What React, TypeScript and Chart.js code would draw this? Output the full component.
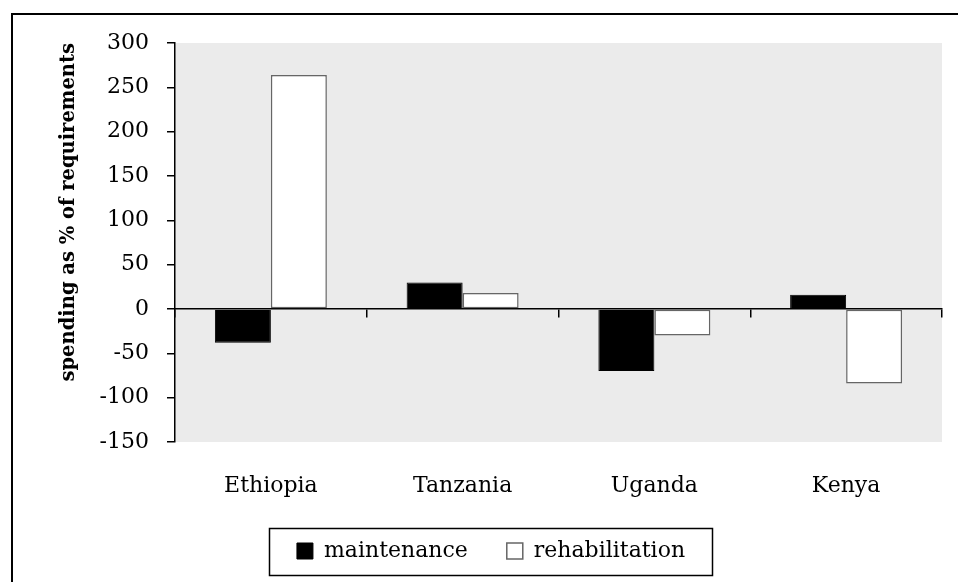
import React, { useEffect, useRef } from "react";
import { Chart, registerables } from "chart.js";

Chart.register(...registerables);

const categories = ["Ethiopia", "Tanzania", "Uganda", "Kenya"];
const maintenance = [-38, 30, -70, 16];
const rehabilitation = [264, 18, -30, -84];
const seriesNames = ["maintenance", "rehabilitation"];
const yTitle = "spending as % of requirements";
const yMin = -150;
const yMax = 300;
const yStep = 50;

const FONT = "'DejaVu Serif', serif";

const bgPlugin = {
  id: "bgPlugin",
  beforeDraw(chart: any) {
    const { ctx, chartArea } = chart;
    ctx.save();
    ctx.fillStyle = "#ebebeb";
    ctx.fillRect(chartArea.left, chartArea.top, chartArea.right - chartArea.left, chartArea.bottom - chartArea.top);
    ctx.restore();
  },
  afterDraw(chart: any) {
    const { ctx } = chart;
    ctx.save();
    // outer frame
    ctx.strokeStyle = "#000";
    ctx.lineWidth = 2;
    ctx.strokeRect(12, 14, chart.width + 50, chart.height + 50);
    // legend frame
    const boxes = chart.legend && chart.legend.legendHitBoxes;
    if (boxes && boxes.length) {
      let l = Infinity, r = -Infinity, t = Infinity, b = -Infinity;
      boxes.forEach((h: any) => {
        l = Math.min(l, h.left);
        r = Math.max(r, h.left + h.width);
        t = Math.min(t, h.top);
        b = Math.max(b, h.top + h.height);
      });
      ctx.lineWidth = 1.5;
      ctx.strokeRect(Math.round(l - 28) + 0.5, Math.round(t - 12) + 0.5, Math.round(r - l + 55), Math.round(b - t + 25));
    }
    ctx.restore();
  },
};

export default function App() {
  const ref = useRef<HTMLCanvasElement>(null);
  useEffect(() => {
    if (!ref.current) return;
    const chart = new Chart(ref.current, {
      type: "bar",
      data: {
        labels: categories,
        datasets: [
          {
            label: seriesNames[0],
            data: maintenance,
            backgroundColor: "#000000",
            borderColor: "#000000",
            borderWidth: 1,
            xAxisID: "x",
          },
          {
            label: seriesNames[1],
            data: rehabilitation,
            backgroundColor: "#ffffff",
            borderColor: "#666666",
            borderWidth: 1.5,
            borderSkipped: false,
            xAxisID: "x",
          },
        ],
      },
      options: {
        animation: false,
        responsive: false,
        maintainAspectRatio: false,
        layout: { padding: { left: 40, right: 16, top: 43, bottom: 48 } },
        plugins: {
          tooltip: { enabled: false },
          legend: {
            position: "bottom",
            labels: {
              boxWidth: 16,
              boxHeight: 16,
              padding: 39,
              color: "#000",
              font: { family: FONT, size: 22 },
            },
          },
        },
        scales: {
          x: {
            type: "category",
            position: { y: 0 } as any,
            offset: true,
            z: 1,
            grid: {
              offset: true,
              drawOnChartArea: false,
              drawTicks: true,
              tickLength: 8,
              color: "#000",
              lineWidth: 1.5,
            },
            border: { display: true, color: "#000", width: 1.5 },
            ticks: { display: false },
          },
          x2: {
            type: "category",
            labels: categories,
            position: "bottom",
            offset: true,
            grid: { display: false },
            border: { display: false },
            ticks: { color: "#000", font: { family: FONT, size: 22 }, padding: 23, maxRotation: 0 },
            afterFit: (s: any) => {
              s.height = 59;
            },
          },
          y: {
            min: yMin,
            max: yMax,
            position: "left",
            ticks: { stepSize: yStep, color: "#000", font: { family: FONT, size: 22 }, padding: 18 },
            grid: { drawOnChartArea: false, drawTicks: true, tickLength: 8, color: "#000", lineWidth: 1.5 },
            border: { display: true, color: "#000", width: 1.5 },
            title: {
              display: true,
              text: yTitle,
              align: "end",
              color: "#000",
              font: { family: FONT, size: 19.5, weight: "bold" },
              padding: { top: 17, bottom: 0 },
            },
            afterFit: (s: any) => {
              s.width = 135;
            },
          },
        },
        datasets: { bar: { categoryPercentage: 0.584, barPercentage: 1.0 } },
      } as any,
      plugins: [bgPlugin],
    });
    return () => chart.destroy();
  }, []);
  return (
    <div style={{ position: "fixed", left: 0, top: 0, width: 958, height: 582, overflow: "hidden", background: "#fff" }}>
      <canvas ref={ref} width={958} height={620} style={{ display: "block" }} />
    </div>
  );
}
